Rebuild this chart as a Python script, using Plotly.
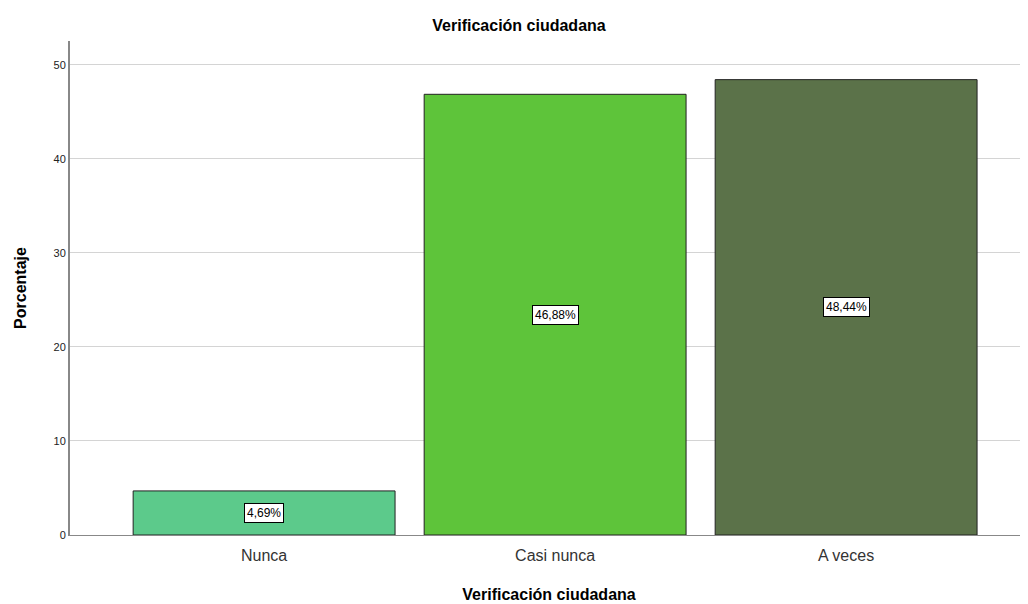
import plotly.graph_objects as go

categories = ["Nunca", "Casi nunca", "A veces"]
values = [4.69, 46.88, 48.44]
labels = ["4,69%", "46,88%", "48,44%"]
colors = ["#5cca8b", "#5ec43a", "#5b7249"]
yticks = [0, 10, 20, 30, 40, 50]

W, H = 1020, 596  # page body has an 8px default margin

fig = go.Figure()
fig.add_trace(go.Bar(
    x=categories, y=values, width=0.9,
    marker=dict(color=colors, line=dict(color="#222222", width=1)),
    hoverinfo="skip",
))

for c, v, t in zip(categories, values, labels):
    fig.add_annotation(
        x=c, y=v / 2, text=t, showarrow=False,
        font=dict(family="Arial, Liberation Sans", size=12, color="black"),
        bgcolor="white", bordercolor="black", borderwidth=1, borderpad=2,
    )

fig.update_layout(
    width=W, height=H,
    margin=dict(l=62, r=0, t=33, b=69, autoexpand=False),
    paper_bgcolor="white", plot_bgcolor="white",
    showlegend=False,
    title=dict(text="<b>Verificación ciudadana</b>", x=(519 - 8) / W, xanchor="center",
               y=1 - 17 / H, yanchor="middle",
               font=dict(family="Arial, Liberation Sans", size=16, color="black")),
    font=dict(family="Arial, Liberation Sans"),
)
fig.update_xaxes(
    range=[-0.667, 2.625], automargin=False,
    showline=True, linecolor="#888888", linewidth=1,
    ticks="", ticklabelstandoff=6, tickfont=dict(size=16, color="#333333"),
    title=dict(text="<b>Verificación ciudadana</b>", standoff=25,
               font=dict(size=16, color="black")),
)
fig.update_yaxes(
    range=[0, 52.55], tickvals=yticks, automargin=False,
    showline=True, linecolor="#888888", linewidth=2,
    showgrid=True, gridcolor="#d4d4d4", gridwidth=1,
    zeroline=False,
    ticks="", tickfont=dict(size=11, color="#222222"),
    title=dict(text="<b>Porcentaje</b>", standoff=23,
               font=dict(size=16, color="black")),
)

fig.write_html("out.html")
